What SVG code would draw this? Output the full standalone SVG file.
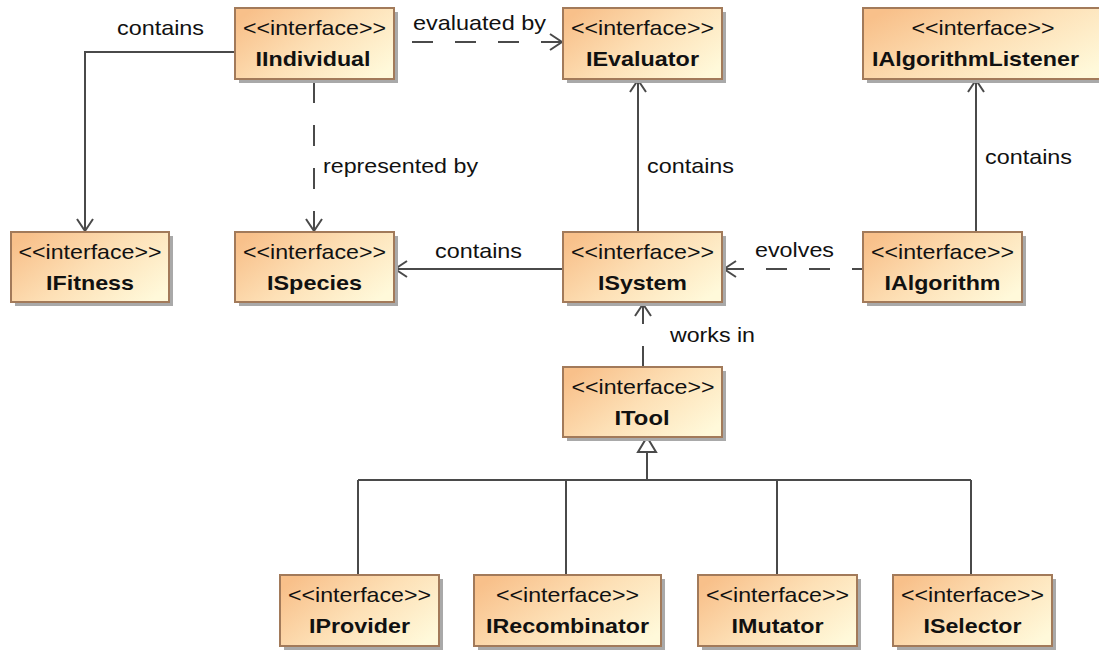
<svg xmlns="http://www.w3.org/2000/svg" width="1099" height="650" viewBox="0 0 1099 650">
<style>
.box{fill:url(#g);stroke:#a27a5a;stroke-width:2}
.sh{fill:#a9a9a9}
.st{font-family:"Liberation Sans",Arial,sans-serif;font-size:21px;fill:#111;text-anchor:middle}
.nm{font-family:"Liberation Sans",Arial,sans-serif;font-size:21px;font-weight:bold;fill:#111;text-anchor:middle}
.lb{font-family:"Liberation Sans",Arial,sans-serif;font-size:21px;fill:#111}
.ln{fill:none;stroke:#4a4a4a;stroke-width:2}
.dl{fill:none;stroke:#4a4a4a;stroke-width:2;stroke-dasharray:21 22}
</style>
<defs>
<linearGradient id="g" x1="0" y1="0.2" x2="1" y2="0.8">
<stop offset="0" stop-color="#f8c08a"/>
<stop offset="0.5" stop-color="#fde0b6"/>
<stop offset="1" stop-color="#fff9da"/>
</linearGradient>
<marker id="arr" markerUnits="userSpaceOnUse" markerWidth="20" markerHeight="20" viewBox="-14 -10 16 20" refX="0" refY="0" orient="auto">
<path d="M-12,-8 L0,0 L-12,8" fill="none" stroke="#4a4a4a" stroke-width="2"/>
</marker>
</defs>
<rect width="1099" height="650" fill="#fff"/>

<g id="connectors">
<path class="ln" d="M235,52 H85 V231" marker-end="url(#arr)"/>
<path class="dl" d="M562,42 H394"/>
<path class="ln" d="M541,42 H562" marker-end="url(#arr)"/>
<path class="dl" d="M314,232 V79"/>
<path class="ln" d="M314,211 V231" marker-end="url(#arr)"/>
<path class="ln" d="M638,232 V80" marker-end="url(#arr)"/>
<path class="ln" d="M563,269 H395" marker-end="url(#arr)"/>
<path class="dl" d="M723,269 H862"/>
<path class="ln" d="M744,269 H724" marker-end="url(#arr)"/>
<path class="ln" d="M976,232 V80" marker-end="url(#arr)"/>
<path class="dl" d="M643,303 V367"/>
<path class="ln" d="M643,324 V304" marker-end="url(#arr)"/>
<path class="ln" d="M647,452 V480 M358,480 H971 M358,480 V575 M566,480 V575 M777,480 V575 M971,480 V575"/>
<path d="M647,437 L656,452 L638,452 Z" fill="#fff" stroke="#4a4a4a" stroke-width="2"/>
<text class="lb" x="117" y="35" textLength="87" lengthAdjust="spacingAndGlyphs">contains</text>
<text class="lb" x="413" y="30" textLength="133" lengthAdjust="spacingAndGlyphs">evaluated by</text>
<text class="lb" x="323" y="173" textLength="155" lengthAdjust="spacingAndGlyphs">represented by</text>
<text class="lb" x="647" y="173" textLength="87" lengthAdjust="spacingAndGlyphs">contains</text>
<text class="lb" x="435" y="258" textLength="87" lengthAdjust="spacingAndGlyphs">contains</text>
<text class="lb" x="755" y="257" textLength="79" lengthAdjust="spacingAndGlyphs">evolves</text>
<text class="lb" x="985" y="164" textLength="87" lengthAdjust="spacingAndGlyphs">contains</text>
<text class="lb" x="670" y="342" textLength="85" lengthAdjust="spacingAndGlyphs">works in</text>
</g>

<g id="IIndividual">
<rect class="sh" x="239" y="12" width="159" height="71"/>
<rect class="box" x="235" y="8" width="159" height="71"/>
<text class="st" x="314.5" y="34.5" textLength="143" lengthAdjust="spacingAndGlyphs">&lt;&lt;interface&gt;&gt;</text>
<text class="nm" x="313" y="65.5" textLength="115" lengthAdjust="spacingAndGlyphs">IIndividual</text>
</g>
<g id="IEvaluator">
<rect class="sh" x="567" y="12" width="159" height="71"/>
<rect class="box" x="563" y="8" width="159" height="71"/>
<text class="st" x="642.5" y="34.5" textLength="143" lengthAdjust="spacingAndGlyphs">&lt;&lt;interface&gt;&gt;</text>
<text class="nm" x="642.5" y="65.5" textLength="113" lengthAdjust="spacingAndGlyphs">IEvaluator</text>
</g>
<g id="IAlgorithmListener">
<rect class="sh" x="867" y="12" width="240" height="71"/>
<rect class="box" x="863" y="8" width="240" height="71"/>
<text class="st" x="983" y="34.5" textLength="143" lengthAdjust="spacingAndGlyphs">&lt;&lt;interface&gt;&gt;</text>
<text class="nm" x="975.5" y="65.5" textLength="207" lengthAdjust="spacingAndGlyphs">IAlgorithmListener</text>
</g>
<g id="IFitness">
<rect class="sh" x="15" y="236" width="158" height="70"/>
<rect class="box" x="11" y="232" width="158" height="70"/>
<text class="st" x="90" y="258.5" textLength="143" lengthAdjust="spacingAndGlyphs">&lt;&lt;interface&gt;&gt;</text>
<text class="nm" x="90" y="289.5" textLength="88" lengthAdjust="spacingAndGlyphs">IFitness</text>
</g>
<g id="ISpecies">
<rect class="sh" x="239" y="236" width="159" height="70"/>
<rect class="box" x="235" y="232" width="159" height="70"/>
<text class="st" x="314.5" y="258.5" textLength="143" lengthAdjust="spacingAndGlyphs">&lt;&lt;interface&gt;&gt;</text>
<text class="nm" x="314.5" y="289.5" textLength="95" lengthAdjust="spacingAndGlyphs">ISpecies</text>
</g>
<g id="ISystem">
<rect class="sh" x="567" y="236" width="159" height="70"/>
<rect class="box" x="563" y="232" width="159" height="70"/>
<text class="st" x="642.5" y="258.5" textLength="143" lengthAdjust="spacingAndGlyphs">&lt;&lt;interface&gt;&gt;</text>
<text class="nm" x="642.5" y="289.5" textLength="89" lengthAdjust="spacingAndGlyphs">ISystem</text>
</g>
<g id="IAlgorithm">
<rect class="sh" x="867" y="236" width="159" height="70"/>
<rect class="box" x="863" y="232" width="159" height="70"/>
<text class="st" x="942.5" y="258.5" textLength="143" lengthAdjust="spacingAndGlyphs">&lt;&lt;interface&gt;&gt;</text>
<text class="nm" x="942.5" y="289.5" textLength="116" lengthAdjust="spacingAndGlyphs">IAlgorithm</text>
</g>
<g id="ITool">
<rect class="sh" x="567" y="371" width="159" height="70"/>
<rect class="box" x="563" y="367" width="159" height="70"/>
<text class="st" x="643" y="393.5" textLength="143" lengthAdjust="spacingAndGlyphs">&lt;&lt;interface&gt;&gt;</text>
<text class="nm" x="642" y="424.5" textLength="55" lengthAdjust="spacingAndGlyphs">ITool</text>
</g>
<g id="IProvider">
<rect class="sh" x="284" y="579" width="159" height="71"/>
<rect class="box" x="280" y="575" width="159" height="71"/>
<text class="st" x="359.5" y="601.5" textLength="143" lengthAdjust="spacingAndGlyphs">&lt;&lt;interface&gt;&gt;</text>
<text class="nm" x="359.5" y="632.5" textLength="101" lengthAdjust="spacingAndGlyphs">IProvider</text>
</g>
<g id="IRecombinator">
<rect class="sh" x="478" y="579" width="187" height="71"/>
<rect class="box" x="474" y="575" width="187" height="71"/>
<text class="st" x="567.5" y="601.5" textLength="143" lengthAdjust="spacingAndGlyphs">&lt;&lt;interface&gt;&gt;</text>
<text class="nm" x="567.5" y="632.5" textLength="163" lengthAdjust="spacingAndGlyphs">IRecombinator</text>
</g>
<g id="IMutator">
<rect class="sh" x="702" y="579" width="159" height="71"/>
<rect class="box" x="698" y="575" width="159" height="71"/>
<text class="st" x="777.5" y="601.5" textLength="143" lengthAdjust="spacingAndGlyphs">&lt;&lt;interface&gt;&gt;</text>
<text class="nm" x="777.5" y="632.5" textLength="92" lengthAdjust="spacingAndGlyphs">IMutator</text>
</g>
<g id="ISelector">
<rect class="sh" x="897" y="579" width="159" height="71"/>
<rect class="box" x="893" y="575" width="159" height="71"/>
<text class="st" x="972.5" y="601.5" textLength="143" lengthAdjust="spacingAndGlyphs">&lt;&lt;interface&gt;&gt;</text>
<text class="nm" x="972.5" y="632.5" textLength="98" lengthAdjust="spacingAndGlyphs">ISelector</text>
</g>
</svg>
